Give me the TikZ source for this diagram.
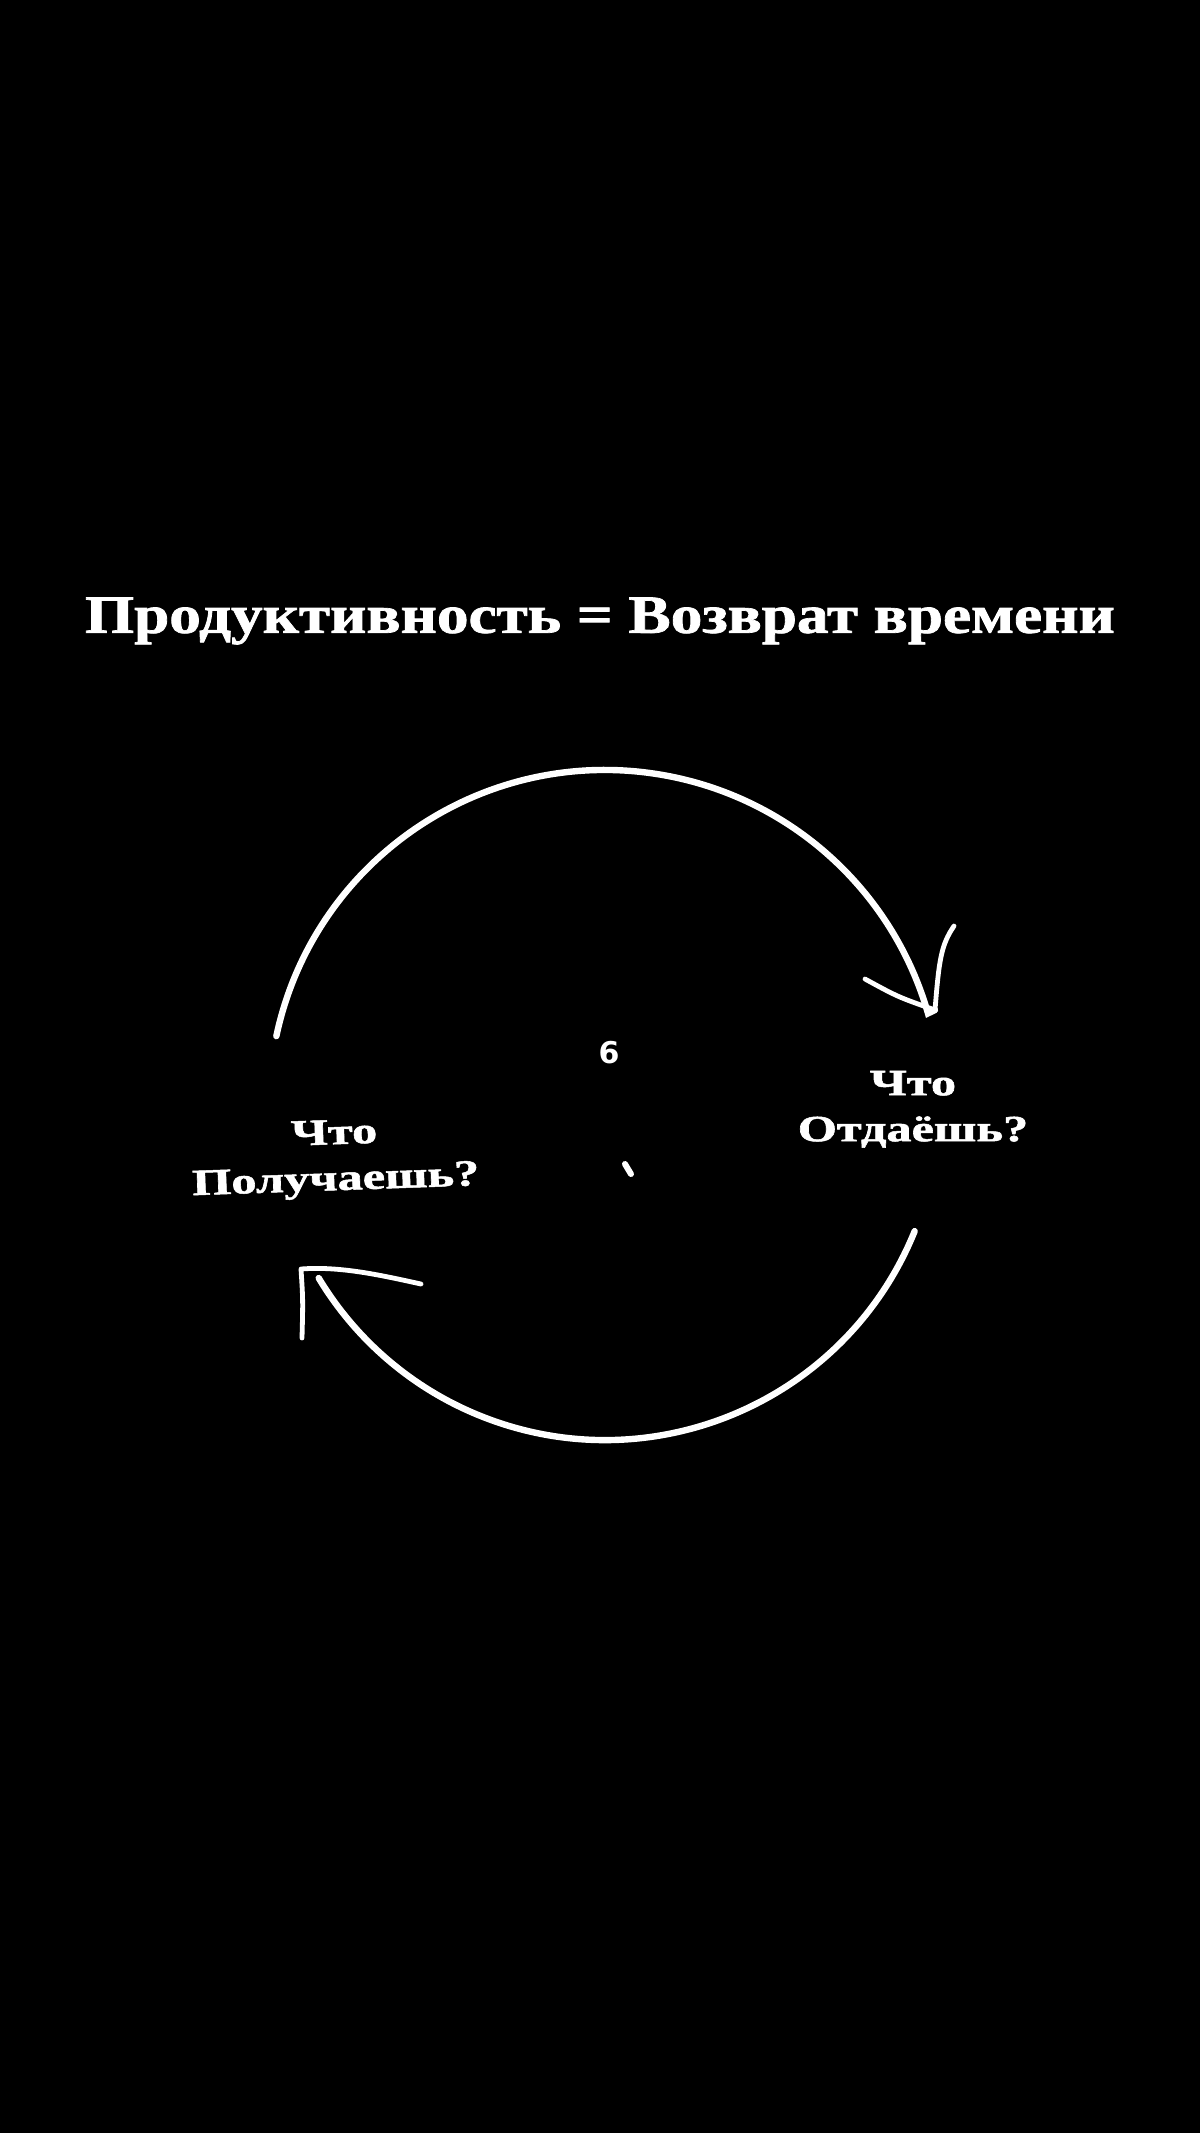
\documentclass[tikz,border=0pt]{standalone}
\usepackage{fontspec}
\setmainfont{Liberation Serif}
\newfontfamily\heavyserif[FakeBold=1.3]{Liberation Serif Bold}
\newfontfamily\markfont{DejaVu Sans}
\newcommand{\widelines}[1]{\scalebox{1.36}[1]{\begin{tabular}{@{}c@{}}#1\end{tabular}}}
\begin{document}
\begin{tikzpicture}[x=0.5pt,y=0.5pt,
  ring/.style={draw=white,line width=3.2pt,line cap=round},
  barb/.style={draw=white,line width=2.4pt,line cap=round,line join=round},
  label/.style={text=white,font=\heavyserif\fontsize{18.5}{23}\selectfont,inner sep=0pt},
  titlestyle/.style={text=white,font=\heavyserif\fontsize{27}{32}\selectfont,inner sep=0pt}]
\fill[black] (0,0) rectangle (1200,-2133);
\useasboundingbox (0,0) rectangle (1200,-2133);

\node[titlestyle] (title) at (600,-621) {\scalebox{1.17}[1]{Продуктивность = Возврат времени}};

\coordinate (c) at (605,-1106);
% upper arc
\draw[ring] (c) ++(168:168pt) coordinate (ua) arc[start angle=168,end angle=16,radius=168pt] coordinate (ub0) -- (935,-1010) coordinate (ub);
% lower arc
\draw[ring] (c) ++(-22:167pt) coordinate (la) arc[start angle=-22,end angle=-149,radius=167pt] coordinate (lb);

% upper arrowhead
\coordinate (uh1) at (865,-979);
\coordinate (uh2) at (954,-926);
\draw[barb] (uh1) .. controls (898,-997) .. (ub) .. controls (939,-960) and (941,-945) .. (uh2);
% lower arrowhead
\coordinate (lh1) at (302,-1338);
\coordinate (lt) at (301,-1269);
\coordinate (lh2) at (421,-1284);
\draw[barb] (lh1) .. controls (303,-1300) .. (lt) .. controls (340,-1266) and (380,-1275) .. (lh2);

\node[label] (give) at (913,-1109) {\widelines{Что\\Отдаёшь?}};
\node[label,rotate=2] (get) at (335,-1158) {\widelines{Что\\Получаешь?}};

\node[text=white,font=\markfont\bfseries\fontsize{15}{17}\selectfont,inner sep=0pt] (six) at (609,-1053) {6};
\coordinate (m1) at (625,-1164);
\coordinate (m2) at (631,-1174);
\draw[white,line width=3pt,line cap=round] (m1) -- (m2);
\end{tikzpicture}
\end{document}
